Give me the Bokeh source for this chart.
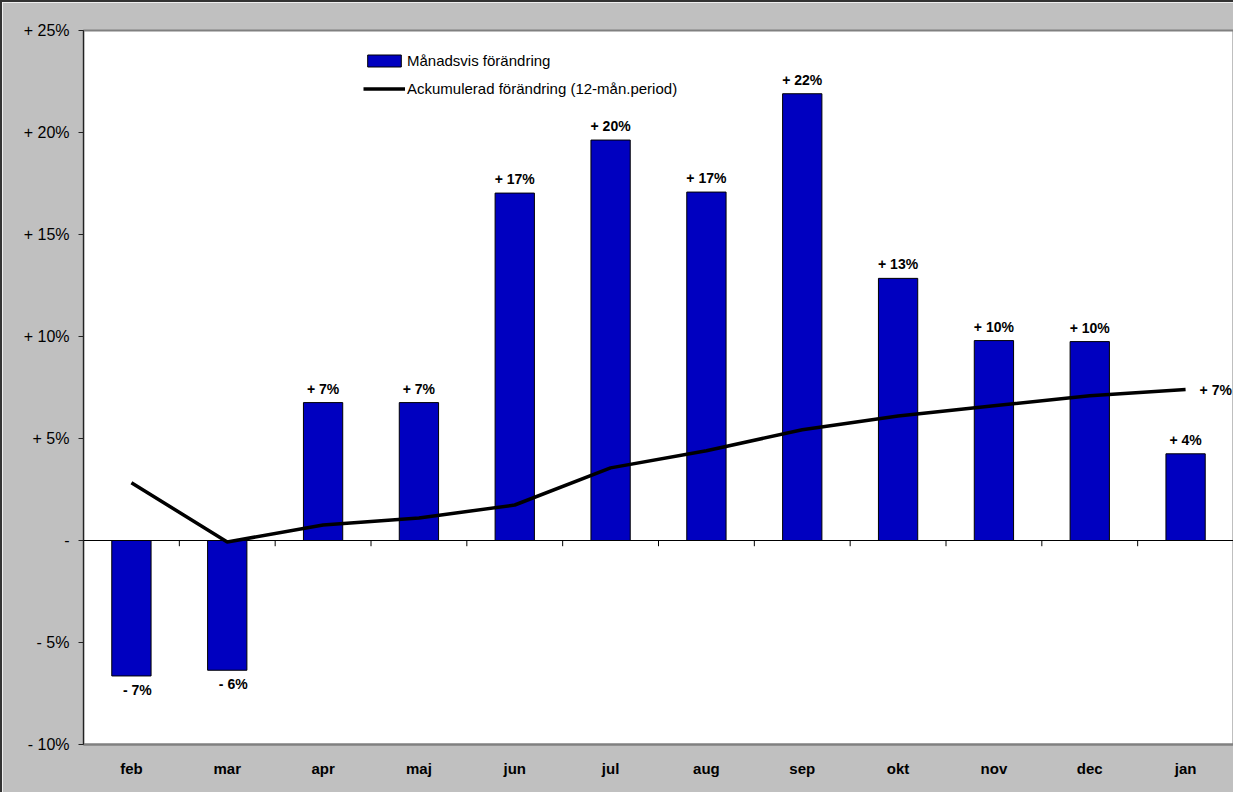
from bokeh.plotting import figure
from bokeh.models import (ColumnDataSource, FixedTicker, Span, Legend, LegendItem, Range1d)
from bokeh.core.properties import value
from bokeh.embed import file_html
from bokeh.resources import INLINE
import numpy as np

months = ["feb", "mar", "apr", "maj", "jun", "jul", "aug", "sep", "okt", "nov", "dec", "jan"]
monthly = [-6.64, -6.36, 6.76, 6.76, 17.03, 19.63, 17.08, 21.9, 12.85, 9.8, 9.75, 4.25]
cumulative = [2.83, -0.07, 0.76, 1.1, 1.74, 3.56, 4.4, 5.43, 6.1, 6.6, 7.1, 7.4]
y_ticks = [-10, -5, 0, 5, 10, 15, 20, 25]
bar_name = "Månadsvis förändring"
line_name = "Ackumulerad förändring (12-mån.period)"

FONT = "Liberation Sans"


def fmt(v):
    r = int(round(v))
    if r == 0:
        return "-"
    return ("+ " if r > 0 else "- ") + f"{abs(r)}%"


n = len(months)
xc = [i + 0.5 for i in range(n)]

p = figure(width=1233, height=792, output_backend="svg", toolbar_location=None,
           x_range=Range1d(0, n), y_range=Range1d(y_ticks[0], y_ticks[-1]),
           min_border_left=81, min_border_top=28, min_border_right=2, min_border_bottom=50)
p.border_fill_color = "#C0C0C0"
p.background_fill_color = "white"
p.outline_line_color = "#808080"
p.outline_line_width = 2
p.grid.visible = False
p.styles = {"border-top": "2px solid #333333", "border-left": "2px solid #333333",
            "box-sizing": "border-box"}

# y axis
p.yaxis.ticker = FixedTicker(ticks=y_ticks)
p.yaxis.major_label_overrides = {t: fmt(t) for t in y_ticks}
p.yaxis.major_label_text_font = FONT
p.yaxis.major_label_text_font_size = "16px"
p.yaxis.major_label_text_color = "black"
p.yaxis.axis_line_color = "#222222"
p.yaxis.major_tick_line_color = "#222222"
p.yaxis.major_tick_out = 5
p.yaxis.major_tick_in = 0
p.yaxis.minor_tick_line_color = None
p.yaxis.major_label_standoff = 9

# x axis
p.xaxis.ticker = FixedTicker(ticks=xc)
p.xaxis.major_label_overrides = {x: m for x, m in zip(xc, months)}
p.xaxis.major_label_text_font = FONT
p.xaxis.major_label_text_font_style = "bold"
p.xaxis.major_label_text_font_size = "15px"
p.xaxis.major_label_text_color = "black"
p.xaxis.major_tick_line_color = None
p.xaxis.minor_tick_line_color = None
p.xaxis.axis_line_color = "#808080"
p.xaxis.axis_line_width = 2
p.xaxis.major_label_standoff = 9

src = ColumnDataSource(dict(x=xc, m=monthly, c=cumulative, month=months,
                            lab=[fmt(v) for v in monthly]))

bars = p.vbar(x="x", top="m", bottom=0, width=0.41, source=src,
              fill_color="#0000C0", line_color="black", line_width=1)

p.add_layout(Span(location=0, dimension="width", line_color="black", line_width=1))
bnd = np.arange(1, n)
p.segment(x0=bnd, x1=bnd, y0=[0] * len(bnd), y1=[-0.28] * len(bnd), line_color="black", line_width=1)

line = p.line(x="x", y="c", source=src, line_color="black", line_width=3.5)

pos = ColumnDataSource(dict(x=[x for x, v in zip(xc, monthly) if v >= 0],
                            y=[v for v in monthly if v >= 0],
                            t=[fmt(v) for v in monthly if v >= 0]))
neg = ColumnDataSource(dict(x=[x for x, v in zip(xc, monthly) if v < 0],
                            y=[v for v in monthly if v < 0],
                            t=[fmt(v) for v in monthly if v < 0]))
p.text(x="x", y="y", text="t", source=pos, text_align="center", text_baseline="bottom",
       y_offset=-6, text_font=value(FONT), text_font_style="bold", text_font_size="14px",
       text_color="black")
p.text(x="x", y="y", text="t", source=neg, text_align="center", text_baseline="top",
       y_offset=6, x_offset=6, text_font=value(FONT), text_font_style="bold", text_font_size="14px",
       text_color="black")
p.text(x=[xc[-1]], y=[cumulative[-1]], text=[fmt(cumulative[-1])], text_align="left",
       text_baseline="middle", x_offset=14, text_font=value(FONT), text_font_style="bold",
       text_font_size="14px", text_color="black")

legend = Legend(items=[LegendItem(label=bar_name, renderers=[bars]),
                       LegendItem(label=line_name, renderers=[line])],
                location=(280, 646), orientation="vertical")
legend.border_line_color = None
legend.background_fill_alpha = 0
legend.padding = 0
legend.margin = 0
legend.spacing = 8
legend.glyph_width = 42
legend.glyph_height = 15
legend.label_height = 20
legend.label_standoff = 2
legend.label_text_font = FONT
legend.label_text_font_size = "15px"
legend.label_text_color = "black"
p.add_layout(legend)

open("out.html", "w").write(file_html(p, INLINE))
